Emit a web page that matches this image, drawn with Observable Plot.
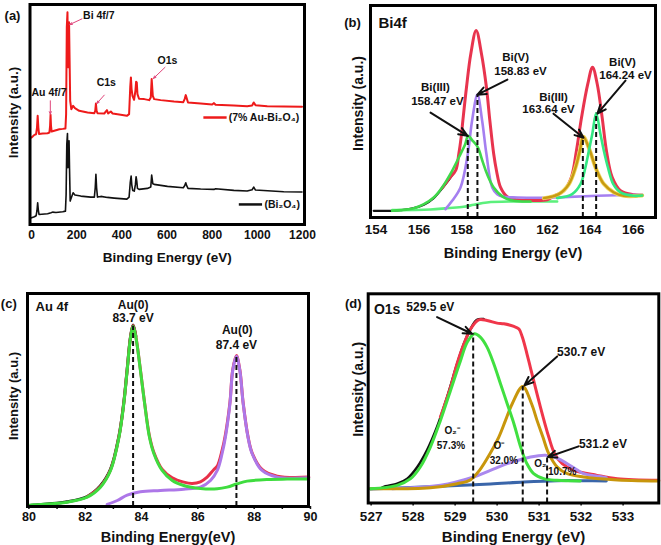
<!DOCTYPE html>
<html><head><meta charset="utf-8">
<script src="https://cdn.jsdelivr.net/npm/d3@7"></script>
<script src="https://cdn.jsdelivr.net/npm/@observablehq/plot@0.6"></script>
<style>
body{margin:0;background:#fff}
#wrap{position:relative;width:661px;height:545px;background:#fff;overflow:hidden}
#wrap svg{position:absolute}
</style></head>
<body><div id="wrap"></div>
<script>
// ---------- (a) survey spectra: [binding energy eV, intensity a.u.] ----------
const aRed = [[0,270],[12.5,278],[20,280],[24,300],[27,335],[30,300],[33,281],[49,282],[71,283],[79,285],[82,305],[84,338],[86,305],[89,288],[108,292],[123,295],[138,296],[150,297],[153,340],[156,600],[159,645],[161,520],[163,480],[165,600],[166,615],[168,520],[171,380],[176,355],[184,365],[192,358],[211,350],[248,345],[278,343],[282,350],[285,372],[288,350],[292,343],[322,342],[334,352],[339,342],[351,348],[359,342],[395,338],[422,335],[432,340],[437,420],[440,450],[443,415],[447,395],[454,383],[460,410],[463,437],[466,435],[469,400],[476,386],[499,385],[521,382],[528,390],[532,445],[537,395],[543,385],[572,382],[631,378],[672,376],[678,385],[683,397],[687,388],[693,375],[749,372],[800,369],[808,373],[815,368],[896,366],[955,364],[977,366],[984,375],[992,367],[1044,364],[1117,363],[1198,362]];
const aBlack = [[0,30],[12.5,33],[20,36],[24,52],[27,75],[30,52],[33,40],[71,42],[86,45],[93,47],[108,46],[138,48],[150,50],[153,100],[156,250],[159,282],[161,180],[163,200],[165,255],[166,260],[168,180],[171,80],[176,90],[184,105],[192,98],[218,95],[262,92],[278,92],[282,120],[285,160],[288,120],[292,92],[307,94],[336,91],[366,89],[422,86],[432,92],[437,135],[441,155],[444,128],[448,112],[455,110],[460,130],[463,153],[466,140],[469,118],[476,115],[513,118],[528,122],[532,158],[537,132],[543,130],[602,124],[672,120],[678,126],[683,135],[687,126],[693,118],[749,116],[808,115],[815,117],[896,112],[955,110],[977,114],[984,122],[992,113],[1117,108],[1198,107]];
const aTicks = [0,200,400,600,800,1000,1200];
const aSeries = ["(7% Au-Bi₂O₄)", "(Bi₂O₄)"];
const aPeakNames = ["Bi 4f/7","Au 4f/7","C1s","O1s"];

// ---------- (b) Bi4f ----------
const bBlack = [[153.89,20],[154.75,20],[155.14,22],[155.76,28],[156.23,38],[156.69,58],[157.08,87],[157.39,112],[157.6,132]];
const bRed = [[157.08,88],[157.39,115],[157.72,142],[157.86,190],[157.97,240],[158.05,290],[158.22,390],[158.42,490],[158.67,560],[158.92,490],[159.15,390],[159.31,290],[159.49,190],[159.62,140],[159.81,90],[160.12,62],[160.58,53],[161.21,51],[161.98,53],[162.30,64],[162.76,80],[163.11,120],[163.35,200],[163.59,300],[163.88,400],[164.10,450],[164.32,400],[164.55,300],[164.75,200],[165.02,120],[165.41,80],[166.03,68],[166.42,67]];
const bBiIII_1 = [[154.75,20],[155.14,22],[155.76,28],[156.23,40],[156.69,60],[157.08,90],[157.55,140],[157.94,190],[158.15,218],[158.30,245],[158.48,232],[158.75,210],[158.96,170],[159.18,130],[159.49,90],[159.96,60],[160.43,50],[161.21,48]];
const bBiV_1 = [[157.24,25],[157.55,50],[157.94,90],[158.28,190],[158.48,290],[158.73,368],[158.95,290],[159.15,190],[159.42,90],[159.65,70],[159.96,62],[160.58,60],[161.52,59],[162.76,61],[164.32,65],[166.42,68]];
const bBackground = [[154.75,22],[156.54,24],[157.32,28],[158.09,32],[158.56,38],[159.18,45],[160.43,48],[162.45,48]];
const bBiIII_2 = [[161.83,58],[162.53,70],[163.00,100],[163.31,150],[163.51,200],[163.67,242],[163.98,200],[164.24,150],[164.63,100],[165.10,75],[165.56,65],[166.42,66]];
const bBiV_2 = [[162.45,58],[163.15,70],[163.54,100],[163.77,150],[163.93,200],[164.09,250],[164.27,312],[164.47,250],[164.63,200],[164.82,150],[165.07,100],[165.41,75],[166.03,65],[166.42,66]];
const bPeakX = [158.28,158.73,163.65,164.27];
const bPeakY = [245,368,242,312];
const bNames = ["Bi(III)","158.47 eV","Bi(V)","158.83 eV","Bi(III)","163.64 eV","Bi(V)","164.24 eV"];
const bTicks = [154,156,158,160,162,164,166];

// ---------- (c) Au 4f ----------
const cBlack = [[80.00,7],[81.36,18],[82.07,34],[82.54,66],[82.90,116],[83.20,216],[83.37,316],[83.49,415],[83.61,513],[83.70,548],[83.80,514]];
const cRed = [[82.07,33],[82.54,64],[82.90,114],[83.20,214],[83.37,314],[83.49,414],[83.61,512],[83.70,546],[83.80,512],[83.96,414],[84.11,314],[84.28,216],[84.44,166],[84.73,116],[85.09,90],[85.50,77],[85.80,73],[86.09,78],[86.33,92],[86.57,115],[86.69,125],[86.86,172],[86.98,220],[87.14,316],[87.24,414],[87.37,456],[87.49,414],[87.61,314],[87.78,214],[87.93,164],[88.28,115],[88.82,95],[89.94,92]];
const cAu72 = [[80.00,7],[80.18,9],[81.36,17],[82.07,32],[82.54,62],[82.90,112],[83.20,212],[83.37,312],[83.49,412],[83.61,510],[83.70,544],[83.80,510],[83.96,412],[84.11,312],[84.28,212],[84.44,162],[84.73,112],[85.09,82],[85.50,67],[86.09,58],[86.69,57],[87.04,62],[87.40,72],[87.75,80],[88.46,85],[89.17,86],[89.94,86]];
const cAu52 = [[82.78,10],[83.14,22],[83.49,38],[83.96,48],[84.67,52],[85.50,56],[86.09,62],[86.45,82],[86.69,112],[86.86,162],[86.98,212],[87.14,312],[87.24,412],[87.37,454],[87.49,412],[87.61,312],[87.78,212],[87.93,162],[88.28,112],[88.82,92],[89.94,90]];
const cPeakX = [83.70,87.37];
const cPeakY = [544,454];
const cNames = ["Au(0)","83.7 eV","Au(0)","87.4 eV"];
const cTicks = [80,82,84,86,88,90];
const cMinor = [81,83,85,87,89];

// ---------- (d) O1s ----------
const dBlack = [[527.22,43],[527.34,50],[527.62,58],[527.86,73],[528.10,108],[528.33,158],[528.57,228],[528.81,318],[529.05,418],[529.21,478],[529.37,523],[529.52,550],[529.68,552]];
const dRed = [[528.65,258],[528.89,348],[529.05,420],[529.21,478],[529.37,523],[529.56,550],[529.76,548],[530.00,540],[530.16,538],[530.40,530],[530.52,522],[530.60,498],[530.71,448],[530.79,408],[531.01,298],[531.23,198],[531.37,148],[531.55,118],[531.83,98],[532.38,83],[532.86,73],[533.85,68]];
const dO2m = [[526.98,43],[527.62,53],[527.94,73],[528.17,108],[528.41,168],[528.65,248],[528.89,338],[529.13,428],[529.29,483],[529.46,508],[529.60,498],[529.76,468],[529.92,418],[530.08,358],[530.24,298],[530.40,238],[530.56,168],[530.71,118],[530.87,88],[531.11,73],[531.43,68],[531.98,66]];
const dOm = [[526.98,43],[528.41,46],[529.05,58],[529.37,70],[529.58,98],[529.83,148],[530.04,198],[530.20,248],[530.36,298],[530.61,350],[530.82,298],[530.95,248],[531.09,198],[531.23,148],[531.43,108],[531.67,88],[532.06,78],[532.78,70],[533.85,66]];
const dO2 = [[527.5,43],[528.65,53],[529.44,78],[529.84,98],[530.24,118],[530.63,133],[530.95,141],[531.15,143],[531.43,135],[531.67,118],[531.90,100],[532.06,88],[532.38,80],[532.6,76]];
const dBase = [[526.98,42],[528.65,50],[529.84,57],[530.63,63],[531.43,67],[532.06,67],[532.6,66]];
const dPeakX = [529.43,530.61,531.19];
const dPeakY = [508,350,141];
const dNames = ["529.5 eV","530.7 eV","531.2 eV"];
const dShares = ["O₂⁻","57.3%","O⁻","32.0%","O₂","10.7%"];
const dTicks = [527,528,529,530,531,532,533];

// ---------- helpers ----------
const FONT = "'Liberation Sans', Arial, Helvetica, sans-serif";
const INK = "#111";
const wrap = document.getElementById("wrap");
const line = (data, stroke, sw, curve = "catmull-rom") =>
  Plot.line(data, {x: d => d[0], y: d => d[1], stroke, strokeWidth: sw, curve, strokeLinejoin: "round", strokeLinecap: "round"});
const dashes = (xs, tops, bottom) =>
  Plot.ruleX(xs.map((x, i) => ({x, top: tops[i]})), {x: "x", y1: () => bottom, y2: "top", stroke: INK, strokeWidth: 2, strokeDasharray: "5,3"});
const labels = (rows, size, extra = {}) =>
  Plot.text(rows, {x: "x", y: "y", text: "t", fontSize: size, fontWeight: "bold", fill: INK, ...extra});
const arrows = (rows, stroke, sw, head) =>
  Plot.arrow(rows, {x1: d => d[0], y1: d => d[1], x2: d => d[2], y2: d => d[3], stroke, strokeWidth: sw, headLength: head, headAngle: 45});
const fixed = (str, anchor, o) =>
  Plot.text([str], {frameAnchor: anchor, text: d => d, fontWeight: "bold", fill: INK, textAnchor: "middle", lineAnchor: "middle", ...o});

function panel(o) {
  const marks = [
    ...o.marks,
    Plot.axisX({ticks: o.ticks, tickSize: o.tickSize, tickPadding: o.tickPad, tickFormat: d => String(d), fontSize: o.tickFont, fontWeight: "bold", fill: INK, stroke: INK, strokeWidth: 1.5, label: null}),
    ...(o.minor ? [Plot.axisX({ticks: o.minor, tickSize: o.tickSize, tickFormat: () => "", stroke: INK, strokeWidth: 1.5, label: null})] : []),
    fixed(o.xLabel, "bottom", {dy: o.xLabelDy, fontSize: o.xLabelFont}),
    fixed(o.yLabel, "left", {rotate: -90, dx: o.yLabelDx, dy: o.yLabelDy, fontSize: o.yLabelFont}),
    fixed(o.letter, "top-left", {dx: o.letterDx, dy: o.letterDy, fontSize: 13}),
    ...(o.title ? [fixed(o.title, "top-left", {textAnchor: "start", dx: o.titleDx, dy: o.titleDy, fontSize: o.titleFont})] : []),
    Plot.frame({stroke: "#000", strokeWidth: 3})
  ];
  const svg = Plot.plot({
    width: o.w, height: o.h,
    marginLeft: o.ml, marginRight: o.mr, marginTop: o.mt, marginBottom: o.mb,
    x: {domain: o.xd}, y: {domain: o.yd, axis: null},
    style: {fontFamily: FONT, fontWeight: "bold", fontSize: "12px", color: INK, background: "transparent", overflow: "visible"},
    marks
  });
  svg.style.left = o.left + "px";
  svg.style.top = o.top + "px";
  wrap.append(svg);
}

// ---------- panel (a) ----------
const aNameRows = [
  {x: 228, y: 635, t: aPeakNames[0]}, {x: 77, y: 405, t: aPeakNames[1]},
  {x: 331, y: 435, t: aPeakNames[2]}, {x: 602, y: 500, t: aPeakNames[3]}];
const aArrowRows = [[223,625,169,608],[83,380,83,340],[322,397,289,372],[591,480,540,447]];
const aLegendRows = [{x1: 761, x2: 864, y: 330, c: "#ee1a1a"}, {x1: 918, x2: 1021, y: 70, c: INK}];
const aLegendText = [{x: 873, y: 330, t: aSeries[0]}, {x: 1032, y: 70, t: aSeries[1]}];
panel({
  left: 0, top: 0, w: 330, h: 270, ml: 29.5, mr: 26, mt: 4, mb: 46,
  xd: [-7, 1209], yd: [10, 668], ticks: aTicks, tickSize: 0, tickPad: 6, tickFont: 12,
  xLabel: "Binding Energy (eV)", xLabelDy: 33, xLabelFont: 13.5,
  yLabel: "Intensity (a.u.)", yLabelDx: -16.5, yLabelDy: -2, yLabelFont: 13.5,
  letter: "(a)", letterDx: -17.5, letterDy: 11,
  marks: [
    line(aBlack, INK, 1.6, "linear"),
    line(aRed, "#ee1a1a", 2, "linear"),
    Plot.link(aLegendRows, {x1: "x1", x2: "x2", y1: "y", y2: "y", stroke: "c", strokeWidth: 2.5}),
    labels(aLegendText, 10.5, {textAnchor: "start"}),
    labels([aNameRows[0]], 10.5, {textAnchor: "start"}),
    labels(aNameRows.slice(1), 10.5),
    arrows(aArrowRows, "#e0457a", 1, 4)
  ]
});

// ---------- panel (b) ----------
const bTextRows = [
  {x: 156.77, y: 391}, {x: 156.86, y: 349}, {x: 160.51, y: 481}, {x: 160.74, y: 439},
  {x: 162.28, y: 361}, {x: 162.05, y: 325}, {x: 165.50, y: 466}, {x: 165.64, y: 427}
].map((r, i) => ({...r, t: bNames[i]}));
const bArrowRows = [[156.54,314,158.26,245],[160.13,413,158.73,368],[162.28,311,163.68,239],[165.64,410,164.33,311]];
panel({
  left: 330, top: 0, w: 331, h: 270, ml: 40, mr: 6, mt: 5, mb: 53,
  xd: [153.74, 167.04], yd: [0, 635], ticks: bTicks, tickSize: 0, tickPad: 7, tickFont: 13.5,
  xLabel: "Binding Energy (eV)", xLabelDy: 36, xLabelFont: 14.5,
  yLabel: "Intensity (a.u.)", yLabelDx: -12, yLabelDy: -8, yLabelFont: 14,
  letter: "(b)", letterDx: -18, letterDy: 17,
  title: "Bi4f", titleDx: 8, titleDy: 18, titleFont: 15,
  marks: [
    line(bBlack, INK, 2.2),
    line(bBackground, "#5cf07c", 2.6),
    line(bRed, "#e8344e", 3),
    line(bBiV_1, "#a57ff0", 2.6),
    line(bBiIII_1, "#3fd84a", 2.6),
    line(bBiIII_2, "#f0d860", 4),
    line(bBiIII_2, "#c89a12", 2.4),
    line(bBiV_2, "#33e883", 2.6),
    dashes(bPeakX, bPeakY, 0),
    arrows(bArrowRows, INK, 2, 7),
    labels(bTextRows, 11.5)
  ]
});

// ---------- panel (c) ----------
const cTextRows = [
  {x: 83.70, y: 607}, {x: 83.70, y: 567}, {x: 87.40, y: 532}, {x: 87.37, y: 487}
].map((r, i) => ({...r, t: cNames[i]}));
panel({
  left: 0, top: 270, w: 330, h: 275, ml: 27, mr: 22, mt: 23, mb: 39,
  xd: [79.95, 89.93], yd: [4, 642], ticks: cTicks, minor: cMinor, tickSize: 3, tickPad: 3, tickFont: 12.5,
  xLabel: "Binding Energy(eV)", xLabelDy: 31, xLabelFont: 14.5,
  yLabel: "Intensity (a.u.)", yLabelDx: -14, yLabelDy: -4, yLabelFont: 13,
  letter: "(c)", letterDx: -18.7, letterDy: 10.3,
  title: "Au 4f", titleDx: 8, titleDy: 13.7, titleFont: 13,
  marks: [
    line(cBlack, INK, 3),
    line(cRed, "#e83048", 3),
    line(cAu52, "#ad77e8", 3),
    line(cAu72, "#3fdc3f", 3),
    dashes(cPeakX, cPeakY, 4),
    labels(cTextRows, 12)
  ]
});

// ---------- panel (d) ----------
const dTextRows = [
  {x: 528.41, y: 588}, {x: 532.0, y: 453}, {x: 532.52, y: 178}
].map((r, i) => ({...r, t: dNames[i]}));
const dShareRows = [
  {x: 528.93, y: 218}, {x: 528.90, y: 173}, {x: 530.04, y: 173},
  {x: 530.16, y: 128}, {x: 531.03, y: 118}, {x: 531.55, y: 93}
].map((r, i) => ({...r, t: dShares[i]}));
const dArrowRows = [[528.57,558,529.40,508],[531.43,440,530.65,353],[531.94,170,531.21,138]];
panel({
  left: 330, top: 270, w: 331, h: 275, ml: 37.7, mr: 2.7, mt: 23.3, mb: 42.5,
  xd: [526.93, 533.85], yd: [0, 628], ticks: dTicks, tickSize: 3, tickPad: 5, tickFont: 13.5,
  xLabel: "Binding Energy (eV)", xLabelDy: 34, xLabelFont: 15,
  yLabel: "Intensity (a.u.)", yLabelDx: -9.7, yLabelDy: -9, yLabelFont: 14,
  letter: "(d)", letterDx: -15, letterDy: 10,
  title: "O1s", titleDx: 5.7, titleDy: 16, titleFont: 14,
  marks: [
    line(dBase, "#3a66aa", 3),
    line(dBlack, INK, 2.6),
    line(dRed, "#f0364a", 3),
    line(dO2, "#aa88ee", 3),
    line(dOm, "#c8960c", 3),
    line(dO2m, "#40e040", 3),
    dashes(dPeakX, dPeakY, 0),
    arrows(dArrowRows, INK, 2, 7),
    labels(dTextRows, 12),
    labels(dShareRows, 10)
  ]
});
</script>
</body></html>
